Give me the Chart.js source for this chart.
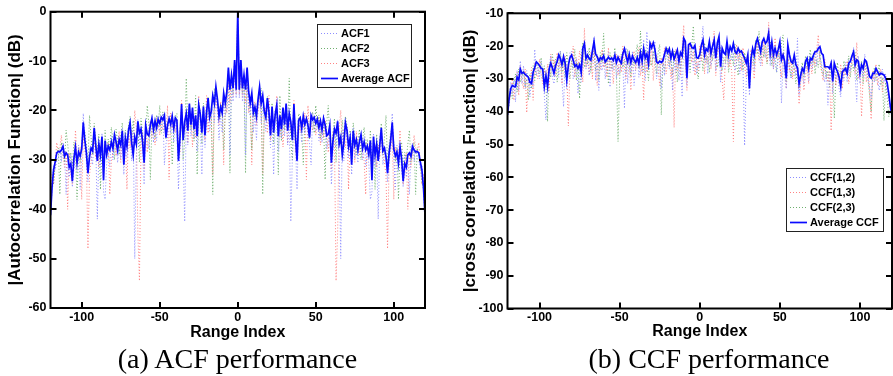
<!DOCTYPE html>
<html><head><meta charset="utf-8">
<script src="https://cdn.jsdelivr.net/npm/chart.js@4.4.1/dist/chart.umd.min.js"></script>
<style>
html,body{margin:0;padding:0;background:#fff;width:893px;height:376px;overflow:hidden;position:relative}
#c1{position:absolute;left:0;top:0;width:450px;height:345px}
#c2{position:absolute;left:450px;top:0;width:443px;height:345px}
.cap{position:absolute;top:345px;font-family:"Liberation Serif","Times New Roman",serif;font-size:28px;line-height:28px;white-space:nowrap;color:#000;transform:translateX(-50%)}
</style></head><body>
<canvas id="c1" width="450" height="345"></canvas>
<canvas id="c2" width="443" height="345"></canvas>
<div class="cap" style="left:237.5px">(a) ACF performance</div>
<div class="cap" style="left:709px">(b) CCF performance</div>
<script>
// ---------------- DATA ----------------
// x axis: range index -120..120
const rangeIndex = [];
for (let k = -120; k <= 120; k++) rangeIndex.push(k);
const xTickValues = [-100, -50, 0, 50, 100];
const acfYTicks = [0, -10, -20, -30, -40, -50, -60];
const ccfYTicks = [-10, -20, -30, -40, -50, -60, -70, -80, -90, -100];

// ACF values read for lags 0..120 (|ACF| is even in the lag, the plot is mirror-symmetric)
const acf1Lag = [
0, -17.5, -10.5, -18.2, -14.0, -29.0, -12.5, -19.8, -21.0, -17.6,
-24.5, -20.8, -26.0, -19.2, -17.0, -22.5, -19.4, -21.5, -24.2, -18.6,
-22.8, -27.5, -20.4, -33.0, -22.6, -19.8, -28.3, -22.4, -25.6, -21.0,
-25.2, -19.4, -27.0, -21.8, -42.5, -29.5, -19.5, -27.2, -36.0, -23.4,
-22.8, -26.5, -22.0, -24.6, -20.9, -25.3, -26.8, -31.0, -20.6, -23.7,
-24.2, -21.0, -26.1, -23.2, -26.5, -20.8, -24.3, -27.8, -26.0, -24.4,
-35.0, -28.5, -23.0, -27.4, -21.8, -29.5, -50.0, -24.0, -30.2, -22.0,
-25.4, -29.6, -24.8, -33.0, -23.5, -29.8, -27.2, -30.6, -25.4, -27.0,
-30.0, -25.2, -31.4, -28.5, -30.8, -38.0, -36.5, -24.6, -31.5, -28.0,
-42.0, -26.4, -24.2, -31.0, -29.0, -27.5, -34.5, -30.0, -27.2, -20.6,
-29.5, -36.0, -27.0, -32.4, -26.8, -31.8, -35.5, -29.0, -33.5, -30.0,
-37.0, -28.4, -26.6, -30.4, -27.8, -29.6, -30.2, -32.0, -31.0, -35.0,
-40.5];
const acf2Lag = [
0, -14.8, -9.8, -16.5, -13.6, -32.7, -11.8, -17.4, -20.6, -28.0,
-18.8, -21.4, -19.5, -18.4, -16.8, -15.5, -37.0, -19.6, -22.0, -17.2,
-21.5, -24.0, -18.5, -26.8, -19.9, -21.4, -33.0, -17.0, -26.2, -19.6,
-24.0, -20.2, -23.5, -13.5, -26.4, -30.0, -20.0, -23.8, -28.5, -20.6,
-21.2, -24.2, -31.0, -22.0, -21.4, -22.5, -25.8, -22.0, -20.3, -24.6,
-19.0, -23.4, -20.9, -25.6, -22.4, -23.0, -34.0, -22.5, -19.0, -25.5,
-28.0, -24.6, -21.6, -30.5, -23.5, -25.2, -27.0, -22.0, -26.0, -21.2,
-23.0, -27.5, -24.0, -28.6, -22.5, -25.4, -29.0, -26.2, -23.8, -30.0,
-26.0, -23.4, -27.5, -25.8, -29.5, -24.0, -31.2, -27.6, -36.0, -24.8,
-28.8, -26.0, -22.6, -29.0, -25.5, -21.0, -31.0, -27.0, -24.4, -23.8,
-26.5, -30.4, -27.6, -38.0, -28.0, -26.4, -31.2, -28.5, -30.0, -26.8,
-24.0, -30.5, -28.0, -26.5, -37.0, -27.6, -29.0, -31.0, -34.5, -36.0,
-41.5];
const acf3Lag = [
0, -16.8, -12.0, -17.2, -13.0, -18.5, -13.4, -20.5, -17.6, -31.0,
-19.6, -18.2, -23.0, -20.4, -17.5, -20.0, -33.0, -21.2, -19.5, -24.6,
-17.0, -26.0, -21.5, -23.2, -22.0, -17.0, -24.8, -25.5, -21.2, -27.4,
-20.8, -21.5, -26.6, -22.5, -24.0, -25.0, -18.0, -28.5, -26.8, -22.0,
-24.5, -21.8, -23.6, -20.5, -34.0, -19.0, -25.4, -22.6, -24.0, -21.2,
-25.0, -23.0, -21.5, -27.0, -23.0, -25.5, -22.0, -24.8, -28.5, -22.6,
-32.0, -24.5, -26.5, -54.5, -45.0, -23.5, -20.0, -26.8, -24.0, -27.6,
-23.4, -36.0, -26.2, -28.0, -25.0, -30.5, -24.2, -27.4, -29.2, -25.6,
-28.4, -30.2, -37.0, -26.5, -29.0, -27.4, -33.5, -28.0, -27.0, -31.5,
-27.0, -29.5, -26.0, -27.8, -30.5, -33.0, -48.0, -30.0, -28.2, -25.0,
-38.0, -27.4, -30.0, -29.2, -24.0, -31.5, -35.0, -33.0, -28.6, -40.0,
-28.2, -31.5, -29.0, -25.0, -27.6, -28.4, -26.5, -30.5, -35.0, -33.0,
-41.0];
const acfAvgLag = [
0, -15.8, -9.8, -15.5, -12.8, -15.8, -11.3, -16.2, -18.5, -16.5,
-20.5, -19.3, -21.2, -17.8, -15.2, -18.6, -17.0, -20.2, -21.4, -17.5,
-20.3, -25.0, -19.2, -24.5, -20.8, -18.9, -25.2, -21.0, -23.8, -19.4,
-22.9, -18.6, -24.1, -20.6, -22.3, -26.0, -18.7, -25.4, -30.2, -22.0,
-21.5, -23.6, -21.1, -22.8, -21.7, -23.0, -25.5, -21.0, -21.9, -21.4,
-22.6, -21.8, -23.5, -22.1, -23.9, -21.6, -22.9, -25.1, -24.8, -23.0,
-30.6, -26.2, -23.8, -24.6, -22.2, -26.8, -25.4, -29.0, -26.5, -22.5,
-24.0, -27.3, -25.6, -31.0, -24.1, -27.0, -25.9, -28.1, -26.3, -24.9,
-27.7, -26.4, -28.0, -27.2, -28.9, -26.1, -34.1, -25.3, -29.0, -26.8,
-30.2, -27.1, -23.5, -28.2, -27.6, -29.4, -32.7, -28.6, -26.0, -22.4,
-27.8, -29.2, -28.4, -30.6, -27.4, -29.7, -34.3, -30.8, -31.5, -29.0,
-28.6, -29.3, -27.3, -28.0, -28.4, -28.3, -28.6, -30.4, -32.0, -35.5,
-41.2];

// CCF values read for range index -120..120
const ccf12 = [
-40.5, -35.5, -31.0, -34.5, -30.0, -37.0, -27.5, -33.5, -24.5, -31.5,
-26.0, -33.0, -27.5, -30.5, -35.5, -28.0, -32.5, -21.0, -29.0, -26.5,
-30.0, -24.5, -28.0, -35.0, -42.5, -31.0, -26.5, -23.0, -29.5, -31.5,
-27.0, -23.5, -29.5, -21.5, -30.5, -38.5, -24.0, -33.0, -27.5, -22.0,
-21.5, -30.0, -28.5, -24.0, -34.5, -26.5, -31.0, -22.0, -18.5, -27.0,
-21.5, -29.0, -26.0, -24.5, -17.5, -30.5, -22.5, -33.5, -24.0, -27.5,
-21.5, -30.0, -25.5, -22.0, -32.5, -24.0, -27.5, -21.5, -30.0, -26.0,
-28.5, -23.0, -25.5, -39.0, -20.5, -31.5, -24.0, -28.0, -21.5, -32.0,
-26.5, -22.0, -29.5, -24.5, -28.0, -18.0, -30.5, -15.6, -27.5, -18.5,
-20.5, -24.0, -18.5, -30.0, -27.0, -25.5, -33.0, -23.5, -29.0, -21.0,
-23.5, -27.0, -21.5, -33.5, -25.0, -28.0, -22.5, -30.5, -24.0, -35.5,
-18.5, -21.0, -32.0, -20.5, -24.0, -19.5, -27.5, -21.0, -28.5, -25.0,
-26.5, -20.5, -13.9, -25.0, -22.0, -28.5, -20.0, -26.0, -23.5, -19.5,
-27.5, -21.0, -18.5, -31.0, -23.0, -26.5, -27.0, -19.5, -25.5, -22.5,
-24.5, -22.0, -27.5, -25.0, -20.5, -28.5, -24.0, -26.5, -50.3, -31.0,
-24.5, -35.0, -25.5, -21.0, -27.5, -20.0, -18.0, -23.0, -26.0, -19.5,
-21.0, -23.5, -20.0, -17.5, -26.0, -21.5, -27.0, -22.5, -28.0, -24.0,
-21.5, -37.4, -25.0, -28.5, -33.0, -22.0, -26.5, -30.0, -27.5, -24.5,
-29.0, -17.6, -35.0, -30.5, -28.0, -31.5, -25.5, -24.0, -30.5, -22.5,
-27.0, -24.5, -22.0, -26.0, -19.5, -23.5, -25.5, -28.0, -31.0, -27.5,
-38.0, -29.0, -24.5, -34.5, -27.0, -30.0, -28.5, -33.0, -35.5, -26.5,
-30.5, -25.0, -31.0, -24.0, -27.5, -23.5, -20.5, -29.0, -37.0, -23.0,
-31.5, -26.0, -29.5, -22.5, -27.0, -30.0, -32.5, -36.0, -28.0, -31.0,
-27.5, -30.0, -33.5, -29.5, -27.0, -31.0, -28.5, -33.0, -36.5, -38.0,
-41.5];
const ccf13 = [
-41.5, -37.0, -34.5, -30.0, -36.5, -31.5, -28.0, -35.0, -26.0, -30.5,
-33.0, -27.0, -40.3, -29.5, -32.0, -26.5, -36.5, -25.0, -28.5, -30.0,
-24.0, -28.5, -31.5, -27.0, -30.0, -25.5, -33.5, -22.5, -27.5, -24.0,
-29.0, -22.0, -26.5, -24.5, -31.5, -27.0, -23.0, -28.5, -44.3, -26.0,
-25.5, -20.0, -29.5, -23.5, -27.0, -21.5, -24.0, -31.0, -14.6, -26.5,
-24.0, -28.5, -22.0, -30.0, -20.5, -25.5, -32.0, -23.5, -27.0, -21.0,
-26.5, -24.0, -29.5, -20.5, -27.5, -23.0, -31.5, -25.0, -22.5, -29.0,
-23.0, -28.0, -20.0, -26.5, -30.0, -22.5, -25.5, -33.5, -24.0, -21.5,
-27.5, -23.0, -20.5, -29.0, -25.0, -36.4, -22.0, -28.0, -21.5, -26.0,
-19.0, -30.5, -24.0, -22.5, -27.0, -32.0, -23.5, -26.0, -20.5, -28.5,
-25.0, -22.0, -30.0, -26.5, -44.8, -21.0, -27.5, -23.0, -29.0, -20.5,
-13.6, -26.0, -33.5, -22.0, -19.5, -25.0, -21.5, -29.0, -24.0, -27.5,
-20.0, -24.5, -18.0, -28.5, -22.0, -25.5, -21.0, -27.0, -19.5, -15.4,
-29.0, -22.5, -20.0, -24.0, -30.5, -36.4, -23.5, -21.0, -26.5, -24.0,
-28.0, -49.1, -25.0, -19.5, -24.5, -22.0, -27.5, -20.5, -26.0, -29.5,
-23.0, -28.5, -21.0, -25.5, -30.0, -22.5, -19.0, -24.5, -20.5, -26.0,
-18.5, -22.0, -25.0, -12.8, -23.5, -20.0, -27.0, -17.5, -24.0, -21.5,
-26.0, -29.5, -22.0, -25.0, -33.0, -23.5, -27.5, -24.0, -30.0, -26.5,
-28.0, -25.5, -37.7, -31.0, -27.0, -33.5, -29.0, -26.0, -31.5, -24.5,
-28.5, -23.5, -26.0, -21.0, -16.6, -25.0, -27.5, -30.5, -24.0, -28.0,
-31.0, -27.0, -45.8, -29.5, -26.5, -32.0, -28.0, -30.5, -25.5, -33.0,
-26.5, -29.0, -24.5, -31.5, -27.0, -25.0, -22.5, -28.5, -18.9, -30.0,
-27.0, -41.5, -29.0, -24.5, -31.0, -26.5, -33.5, -42.3, -27.5, -30.5,
-25.5, -32.0, -29.0, -27.0, -34.0, -30.0, -28.5, -33.5, -37.0, -39.5,
-40.5];
const ccf23 = [
-41.0, -38.0, -33.5, -36.0, -31.0, -28.5, -34.0, -27.0, -31.0, -29.5,
-27.5, -32.5, -30.0, -36.5, -28.5, -33.0, -26.0, -30.5, -24.5, -27.0,
-28.5, -23.5, -30.0, -26.0, -32.0, -43.0, -25.5, -29.5, -22.5, -26.5,
-24.0, -31.0, -25.5, -21.5, -28.0, -24.5, -29.5, -22.0, -26.0, -30.0,
-24.5, -27.0, -21.0, -30.5, -25.0, -36.0, -23.5, -19.0, -26.5, -22.5,
-25.5, -20.5, -28.0, -23.0, -21.5, -27.5, -24.0, -30.5, -22.0, -25.0,
-16.1, -26.0, -23.5, -31.5, -22.0, -27.0, -25.0, -20.5, -28.5, -49.1,
-30.0, -22.5, -26.5, -24.0, -28.0, -21.0, -25.5, -29.5, -23.0, -26.0,
-22.5, -19.5, -27.0, -15.4, -24.5, -28.0, -21.0, -25.5, -30.5, -23.0,
-26.0, -21.5, -24.0, -28.5, -22.0, -19.5, -41.0, -25.0, -27.5, -23.0,
-20.5, -26.0, -23.5, -29.0, -21.5, -25.0, -31.0, -22.5, -27.0, -24.0,
-21.0, -19.0, -25.5, -22.0, -28.0, -20.0, -13.9, -24.5, -26.0, -30.0,
-24.0, -21.5, -27.5, -19.0, -25.0, -23.0, -28.0, -21.0, -24.5, -20.5,
-22.0, -26.5, -24.0, -20.5, -27.5, -23.5, -25.0, -21.5, -28.0, -24.0,
-22.5, -26.0, -19.5, -25.5, -29.0, -21.0, -23.5, -27.5, -22.0, -25.0,
-28.5, -31.0, -24.0, -21.5, -26.0, -18.0, -22.5, -15.5, -24.0, -20.0,
-23.5, -19.0, -25.5, -21.0, -18.5, -26.0, -22.0, -24.5, -28.0, -21.5,
-24.0, -19.0, -16.6, -27.5, -31.0, -23.5, -26.0, -29.5, -24.0, -27.0,
-31.5, -26.5, -33.0, -28.0, -25.0, -29.5, -23.0, -27.0, -24.5, -21.0,
-25.5, -22.0, -28.5, -24.0, -26.5, -21.5, -27.0, -29.0, -25.0, -30.0,
-27.5, -32.5, -26.0, -29.0, -42.0, -28.5, -25.0, -31.0, -27.5, -30.0,
-24.5, -28.0, -26.5, -23.0, -29.5, -25.0, -27.5, -22.0, -30.5, -26.0,
-28.0, -24.5, -31.5, -27.0, -25.5, -30.0, -35.0, -40.0, -29.0, -26.5,
-30.5, -28.0, -25.5, -32.0, -29.5, -42.7, -31.0, -36.0, -41.5, -39.0,
-42.0];
const ccfAvg = [
-41.0, -36.0, -33.0, -32.0, -32.3, -32.4, -29.5, -30.3, -27.0, -28.3,
-28.0, -28.6, -29.0, -29.5, -31.0, -31.4, -28.0, -26.5, -24.8, -25.3,
-26.0, -26.8, -27.0, -32.4, -29.0, -32.4, -27.0, -25.2, -26.5, -28.3,
-26.0, -24.7, -22.7, -23.8, -25.6, -23.2, -25.3, -30.3, -25.8, -23.5,
-22.7, -24.3, -26.2, -25.7, -26.8, -25.7, -28.0, -20.7, -19.2, -23.8,
-22.8, -23.8, -24.3, -21.5, -18.6, -22.5, -23.2, -24.6, -23.5, -24.0,
-23.0, -24.8, -24.2, -23.4, -24.0, -23.6, -24.4, -22.8, -25.0, -23.4,
-24.5, -25.2, -22.3, -20.8, -23.0, -24.8, -22.5, -25.0, -23.0, -24.2,
-25.0, -23.5, -25.4, -22.0, -24.6, -20.8, -23.6, -22.4, -25.3, -19.2,
-20.5, -19.0, -21.0, -24.8, -25.2, -24.6, -25.0, -24.4, -22.5, -20.7,
-22.0, -20.8, -23.6, -21.5, -24.0, -22.6, -21.2, -24.5, -22.0, -23.0,
-17.6, -18.6, -29.8, -19.6, -19.2, -20.4, -20.7, -19.8, -23.5, -23.7,
-22.5, -19.7, -18.1, -22.7, -20.8, -21.5, -18.6, -22.2, -20.0, -18.1,
-23.7, -19.0, -17.1, -26.3, -20.7, -22.0, -22.5, -18.6, -22.7, -20.2,
-21.5, -19.2, -21.7, -22.2, -20.7, -21.8, -21.5, -22.7, -23.7, -25.2,
-22.7, -32.9, -23.7, -20.7, -22.7, -19.2, -17.7, -19.7, -21.7, -18.7,
-17.7, -19.2, -18.5, -16.0, -22.2, -18.7, -22.7, -20.7, -22.7, -21.0,
-18.7, -24.2, -22.7, -24.7, -29.8, -19.7, -22.7, -24.7, -25.2, -22.7,
-25.7, -26.7, -31.4, -28.8, -26.8, -27.8, -24.7, -23.7, -26.8, -23.7,
-24.2, -22.7, -21.7, -21.7, -20.7, -20.2, -22.2, -22.7, -26.3, -26.3,
-26.3, -26.8, -25.2, -30.8, -25.2, -26.8, -27.8, -29.5, -32.4, -27.8,
-27.3, -26.8, -28.3, -25.2, -24.7, -23.0, -21.7, -25.7, -24.2, -24.7,
-28.3, -25.7, -26.8, -24.2, -24.7, -26.8, -29.3, -29.8, -28.3, -28.3,
-26.8, -27.8, -28.8, -28.3, -28.5, -28.8, -29.8, -31.2, -34.6, -38.5,
-41.0];

// ---------------- RENDERING ----------------
const FONT = '"Liberation Sans", Arial, Helvetica, sans-serif';
// even-lag ACF: negative lags carry the same read values as positive lags
function evenLagToRange(lagVals) { return lagVals.slice(1).reverse().concat(lagVals); }

const COL_BLUE = 'rgb(140,140,255)', COL_GREEN = 'rgb(110,175,110)', COL_RED = 'rgb(255,130,130)', COL_AVG = '#0a0aff';

function ds(label, vals, color, dash, width, order) {
  return {
    label, data: rangeIndex.map((k, i) => ({x: k, y: vals[i]})),
    borderColor: color, backgroundColor: color, borderWidth: width, borderDash: dash,
    pointRadius: 0, tension: 0, fill: false, order
  };
}

const framePlugin = {
  id: 'frame',
  afterDatasetsDraw(chart, args, opts) {
    const {ctx, chartArea: a, scales: {x, y}} = chart;
    ctx.save();
    ctx.strokeStyle = '#000';
    ctx.lineWidth = 2;
    ctx.setLineDash([]);
    ctx.strokeRect(a.left, a.top, a.right - a.left, a.bottom - a.top);
    const L = 6;
    ctx.beginPath();
    x.ticks.forEach(t => {
      const px = Math.round(x.getPixelForValue(t.value));
      ctx.moveTo(px, a.bottom); ctx.lineTo(px, a.bottom - L);
      ctx.moveTo(px, a.top); ctx.lineTo(px, a.top + L);
    });
    y.ticks.forEach(t => {
      const py = Math.round(y.getPixelForValue(t.value));
      ctx.moveTo(a.left, py); ctx.lineTo(a.left + L, py);
      ctx.moveTo(a.right, py); ctx.lineTo(a.right - L, py);
    });
    ctx.stroke();
    // legend box
    const b = opts.box;
    if (b) {
      ctx.fillStyle = '#fff';
      ctx.fillRect(b.left, b.top, b.width, b.height);
      ctx.lineWidth = 1;
      ctx.strokeStyle = '#222';
      ctx.strokeRect(b.left + 0.5, b.top + 0.5, b.width, b.height);
      ctx.font = 'bold 11px ' + FONT;
      ctx.textBaseline = 'middle';
      ctx.textAlign = 'left';
      chart.data.datasets.forEach((d, i) => {
        const yy = b.top + 9 + i * 15;
        ctx.beginPath();
        ctx.strokeStyle = d.borderColor;
        ctx.lineWidth = d.borderWidth;
        ctx.setLineDash(d.borderDash || []);
        ctx.moveTo(b.left + 4, yy + 0.5);
        ctx.lineTo(b.left + 21, yy + 0.5);
        ctx.stroke();
        ctx.setLineDash([]);
        ctx.fillStyle = '#000';
        ctx.fillText(d.label, b.left + 24, yy + 0.5);
      });
    }
    ctx.restore();
  }
};

function makeOptions(cfg) {
  const tickFont = {family: FONT, size: 12.5, weight: 'bold'};
  return {
    responsive: false, animation: false, devicePixelRatio: 1,
    layout: {padding: {left: 0, top: cfg.padTop, right: cfg.padRight, bottom: 0}},
    plugins: {legend: {display: false}, tooltip: {enabled: false}, frame: {box: cfg.box}},
    scales: {
      x: {
        type: 'linear', min: -120, max: 120,
        afterBuildTicks: s => { s.ticks = xTickValues.map(v => ({value: v})); },
        afterFit: s => { s.height = cfg.xH; },
        grid: {display: false, drawTicks: false}, border: {display: false},
        ticks: {padding: 2, font: tickFont, color: '#000', maxRotation: 0, autoSkip: false},
        title: {display: true, text: 'Range Index', color: '#000',
          font: {family: FONT, size: 16, weight: 'bold'}, padding: {top: 0, bottom: cfg.xTitlePad}}
      },
      y: {
        type: 'linear', min: cfg.yMin, max: cfg.yMax,
        afterBuildTicks: s => { s.ticks = cfg.yTicks.map(v => ({value: v})); },
        afterFit: s => { s.width = cfg.yW; },
        grid: {display: false, drawTicks: false}, border: {display: false},
        ticks: {padding: 4, font: tickFont, color: '#000', autoSkip: false},
        title: {display: true, text: cfg.yTitle, color: '#000',
          font: {family: FONT, size: 17, weight: 'bold'}, padding: {top: cfg.yTitlePad, bottom: 0}}
      }
    }
  };
}

new Chart(document.getElementById('c1'), {
  type: 'line',
  data: {datasets: [
    ds('ACF1', evenLagToRange(acf1Lag), COL_BLUE, [1, 2], 1, 1),
    ds('ACF2', evenLagToRange(acf2Lag), COL_GREEN, [1, 2], 1, 2),
    ds('ACF3', evenLagToRange(acf3Lag), COL_RED, [1, 2], 1, 3),
    ds('Average ACF', evenLagToRange(acfAvgLag), COL_AVG, [], 1.7, 0)
  ]},
  options: makeOptions({padTop: 11.7, padRight: 25, xH: 37, xTitlePad: 2.4, yMin: -60, yMax: 0,
    yTicks: acfYTicks, yW: 50.5, yTitle: '|Autocorrelation Function| (dB)', yTitlePad: 5.3,
    box: {left: 317, top: 24, width: 94, height: 63}}),
  plugins: [framePlugin]
});

new Chart(document.getElementById('c2'), {
  type: 'line',
  data: {datasets: [
    ds('CCF(1,2)', ccf12, COL_BLUE, [1, 2], 1, 1),
    ds('CCF(1,3)', ccf13, COL_RED, [1, 2], 1, 2),
    ds('CCF(2,3)', ccf23, COL_GREEN, [1, 2], 1, 3),
    ds('Average CCF', ccfAvg, COL_AVG, [], 1.7, 0)
  ]},
  options: makeOptions({padTop: 13.3, padRight: 1, xH: 36.5, xTitlePad: 3.4, yMin: -100, yMax: -10,
    yTicks: ccfYTicks, yW: 57.5, yTitle: '|cross correlation Function| (dB)', yTitlePad: 10.3,
    box: {left: 336, top: 168, width: 97, height: 63}}),
  plugins: [framePlugin]
});
</script>
</body></html>
